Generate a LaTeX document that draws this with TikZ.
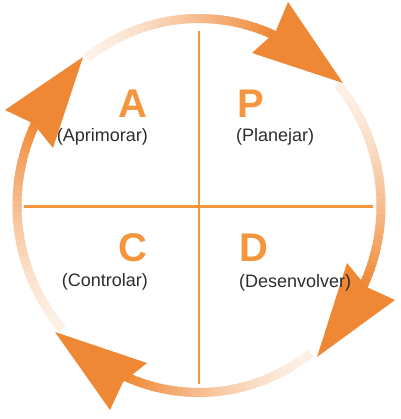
\documentclass[tikz,border=0pt]{standalone}
\usepackage{fontspec}
\setmainfont{Liberation Sans}
\definecolor{headorange}{RGB}{239,136,52}
\definecolor{lineorange}{RGB}{245,150,62}
\definecolor{txtgray}{RGB}{45,45,45}
\tikzset{
  letter/.style={text=lineorange, font=\fontsize{40}{40}\selectfont\bfseries, inner sep=0pt},
  word/.style={text=txtgray, font=\fontsize{18}{20}\selectfont, inner sep=0pt},
  divider/.style={draw=lineorange, line width=2.6pt},
  headshape/.style={fill=headorange, draw=none},
}
\newcommand\gradarc[2]{%
  \foreach \k in {0,...,39}{%
    \pgfmathsetmacro\aa{#1+(#2-#1)*\k/40}%
    \pgfmathsetmacro\bb{#1+(#2-#1)*(\k+1.4)/40}%
    \pgfmathtruncatemacro\pp{12+88*(\k/39)^1.4}%
    \draw[line width=9pt, draw=headorange!\pp!white, shift={(199,213.5)}]
      (\aa:182 and 187) arc[start angle=\aa, end angle=\bb, x radius=182, y radius=187];
  }%
}
\begin{document}
\begin{tikzpicture}[x=1pt,y=1pt]
\useasboundingbox (0,0) rectangle (400,419);
\fill[white] (0,0) rectangle (400,419);
% dividers
\coordinate (vtop) at (199,388);
\coordinate (vbot) at (199,35);
\coordinate (hleft) at (24,212.7);
\coordinate (hright) at (373,212.7);
\draw[divider] (vtop) -- (vbot);
\draw[divider] (hleft) -- (hright);
% graded arcs (clockwise)
\gradarc{128}{66}
\gradarc{40.4}{-26}
\gradarc{-52.1}{-114}
\gradarc{221.3}{153}
% arrow heads
\fill[headshape] (83,362) -- (5,309) -- (33.2,295.6) -- (53,271) -- cycle;
\fill[headshape] (343,336) -- (288,417) -- (275.6,387.3) -- (252,366) -- cycle;
\fill[headshape] (317,62) -- (347,156) -- (366.9,131.8) -- (395,119) -- cycle;
\fill[headshape] (55,87) -- (147,56) -- (122.9,36.7) -- (110,9) -- cycle;
% texts
\node[letter, anchor=east] (lA) at (147.5,315) {A};
\node[word, anchor=east] (wA) at (148,282) {(Aprimorar)};
\node[letter, anchor=west] (lP) at (237,315) {P};
\node[word, anchor=west] (wP) at (236,282) {(Planejar)};
\node[letter, anchor=east] (lC) at (147.5,171) {C};
\node[word, anchor=east] (wC) at (148,137.5) {(Controlar)};
\node[letter, anchor=west] (lD) at (239,171) {D};
\node[word, anchor=west] (wD) at (239,136.5) {(Desenvolver)};
\end{tikzpicture}
\end{document}
